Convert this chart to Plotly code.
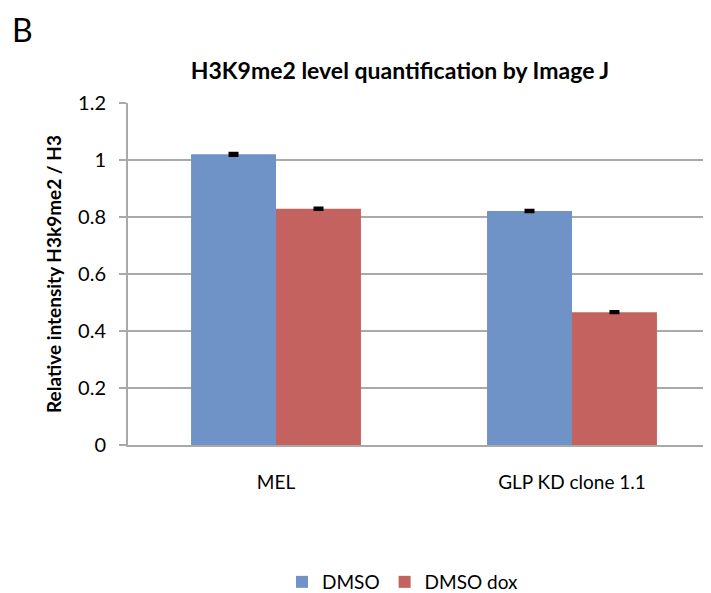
import plotly.graph_objects as go

categories = ["MEL", "GLP KD clone 1.1"]
dmso = [1.020, 0.821]
dmso_dox = [0.829, 0.466]
dmso_err = [0.004, 0.003]
dmso_dox_err = [0.003, 0.002]
y_ticks = [0, 0.2, 0.4, 0.6, 0.8, 1, 1.2]
y_ticklabels = ["0", "0.2", "0.4", "0.6", "0.8", "1", "1.2"]

FONT = "Lato, Open Sans, sans-serif"
BLUE = "#7093c7"
RED = "#c4625f"
GRID = "#a9a9a9"

# page body has an 8px margin; plot area on screen: x 128..711+, y 103..445
L, T, B_ = 120, 95, 156
PW = 711 - L
PH = 593 - T - B_


def px(xs):
    return (xs - 128) / PW


def py(ys):
    return (445 - ys) / PH


fig = go.Figure()
fig.add_trace(go.Bar(
    name="DMSO", x=categories, y=dmso, marker=dict(color=BLUE, line=dict(width=0)),
    error_y=dict(type="data", array=dmso_err, color="black", thickness=3, width=5),
))
fig.add_trace(go.Bar(
    name="DMSO dox", x=categories, y=dmso_dox, marker=dict(color=RED, line=dict(width=0)),
    error_y=dict(type="data", array=dmso_dox_err, color="black", thickness=3, width=5),
))

fig.update_layout(
    width=711, height=593,
    paper_bgcolor="white", plot_bgcolor="white",
    margin=dict(l=L, r=0, t=T, b=B_),
    barmode="group", bargap=0.426, bargroupgap=0,
    font=dict(family=FONT, size=19, color="black"),
    title=dict(text="<b>H3K9me2 level quantification by Image J</b>",
               x=(400 - 8) / 711, xanchor="center", y=1 - (71 - 8) / 593, yanchor="middle",
               font=dict(size=23, family=FONT, color="black")),
    showlegend=True,
    legend=dict(orientation="h", x=px(282), xanchor="left",
                y=py(582), yanchor="middle", font=dict(size=19, family=FONT),
                itemwidth=30, traceorder="normal", bgcolor="rgba(0,0,0,0)"),
    xaxis=dict(range=[-0.5, -0.5 + PW / 296], showgrid=False, showline=True,
               linecolor=GRID, linewidth=2, ticks="", tickfont=dict(size=19),
               ticklabelstandoff=19),
    yaxis=dict(range=[0, 1.2], tickvals=y_ticks, ticktext=y_ticklabels,
               showgrid=True, gridcolor=GRID, gridwidth=2,
               showline=True, linecolor=GRID, linewidth=2,
               ticks="outside", ticklen=7, tickcolor=GRID, tickwidth=1.5,
               tickfont=dict(size=20), zeroline=False, ticklabelstandoff=9,
               title=dict(text="<b>Relative intensity H3k9me2 / H3</b>",
                          font=dict(size=19, family=FONT), standoff=11)),
)

fig.add_annotation(text="B", xref="paper", yref="paper",
                   x=px(10), xanchor="left",
                   y=py(29), yanchor="middle",
                   showarrow=False, font=dict(size=32, family=FONT, color="black"))

fig.write_html("out.html")
